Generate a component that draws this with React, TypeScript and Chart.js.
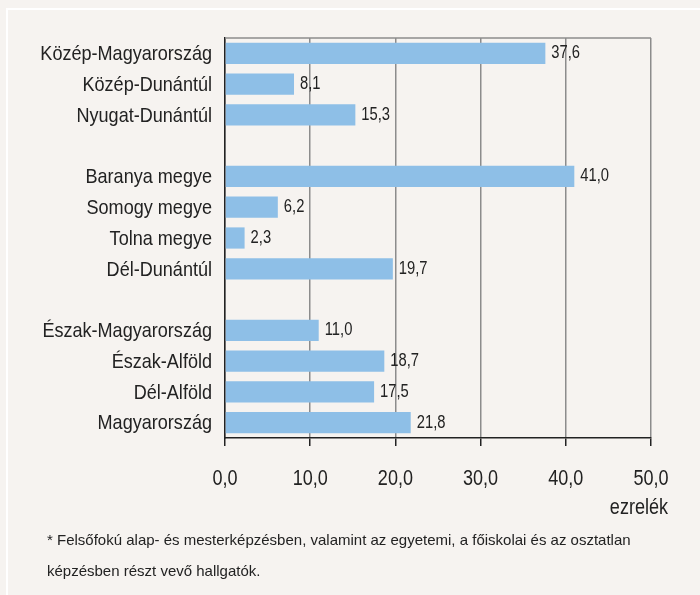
import React, { useEffect, useRef } from "react";
import { Chart, registerables } from "chart.js";

Chart.register(...registerables);

const categories: string[] = [
  "Közép-Magyarország",
  "Közép-Dunántúl",
  "Nyugat-Dunántúl",
  "",
  "Baranya megye",
  "Somogy megye",
  "Tolna megye",
  "Dél-Dunántúl",
  "",
  "Észak-Magyarország",
  "Észak-Alföld",
  "Dél-Alföld",
  "Magyarország",
];

const values: (number | null)[] = [37.6, 8.1, 15.3, null, 41.0, 6.2, 2.3, 19.7, null, 11.0, 18.7, 17.5, 21.8];

const xTicks: number[] = [0, 10, 20, 30, 40, 50];

const unitLabel = "ezrelék";
const footnoteLines: string[] = [
  "* Felsőfokú alap- és mesterképzésben, valamint az egyetemi, a főiskolai és az osztatlan",
  "képzésben részt vevő hallgatók.",
];

const FONT = "'Liberation Sans', Arial, sans-serif";
const BG = "#F6F3F0";
const BAR = "#8EBFE7";
const GRID = "#8C8C8C";
const DARK = "#222222";

const fmt = (v: number) => v.toFixed(1).replace(".", ",");

function drawNarrow(
  ctx: CanvasRenderingContext2D,
  text: string,
  x: number,
  y: number,
  align: CanvasTextAlign,
  size: number,
  squeeze: number
) {
  ctx.save();
  ctx.translate(x, y);
  ctx.scale(squeeze, 1);
  ctx.font = `${size}px ${FONT}`;
  ctx.fillStyle = DARK;
  ctx.textAlign = align;
  ctx.textBaseline = "middle";
  ctx.fillText(text, 0, 0);
  ctx.restore();
}

const decorPlugin = {
  id: "decor",
  beforeDatasetsDraw(chart: any) {
    const { ctx, chartArea } = chart;
    ctx.save();
    ctx.strokeStyle = GRID;
    ctx.lineWidth = 1.5;
    ctx.beginPath();
    ctx.moveTo(chartArea.left, chartArea.top);
    ctx.lineTo(chartArea.right, chartArea.top);
    ctx.stroke();
    ctx.restore();
  },
  afterDatasetsDraw(chart: any) {
    const { ctx } = chart;
    const meta = chart.getDatasetMeta(0);
    meta.data.forEach((el: any, i: number) => {
      const v = values[i];
      if (v === null || v === undefined) return;
      drawNarrow(ctx, fmt(v), el.x + 6, el.y, "left", 18, 0.82);
    });
  },
  afterDraw(chart: any) {
    const { ctx } = chart;
    const xs = chart.scales.x;
    const ys = chart.scales.y;
    categories.forEach((c, i) => {
      if (!c) return;
      drawNarrow(ctx, c, ys.right - 13, ys.getPixelForTick(i) + 1, "right", 21, 0.86);
    });
    xTicks.forEach((v) => {
      drawNarrow(ctx, fmt(v), xs.getPixelForValue(v), 478.5, "center", 22, 0.82);
    });
    drawNarrow(ctx, unitLabel, 668, 508, "right", 22, 0.82);
    ctx.save();
    ctx.fillStyle = DARK;
    ctx.font = `15px ${FONT}`;
    ctx.textAlign = "left";
    ctx.textBaseline = "middle";
    ctx.fillText(footnoteLines[0], 47, 541);
    ctx.fillText(footnoteLines[1], 47, 572);
    ctx.restore();
  },
};

export default function App() {
  const ref = useRef<HTMLCanvasElement | null>(null);

  useEffect(() => {
    if (!ref.current) return;
    const chart = new Chart(ref.current, {
      type: "bar",
      data: {
        labels: categories,
        datasets: [
          {
            data: values as any,
            backgroundColor: BAR,
            borderWidth: 0,
            categoryPercentage: 1,
            barPercentage: 0.69,
          },
        ],
      },
      options: {
        indexAxis: "y",
        animation: false,
        responsive: true,
        maintainAspectRatio: false,
        layout: { padding: { left: 0, top: 38, right: 49, bottom: 0 } },
        plugins: {
          legend: { display: false },
          tooltip: { enabled: false },
        },
        scales: {
          x: {
            min: 0,
            max: 50,
            afterBuildTicks: (scale: any) => {
              scale.ticks = xTicks.map((v) => ({ value: v }));
            },
            afterFit: (scale: any) => {
              scale.height = 157;
            },
            ticks: { display: false },
            grid: {
              color: GRID,
              lineWidth: 1.5,
              drawTicks: true,
              tickLength: 8,
              tickColor: DARK,
            },
            border: { display: true, color: DARK, width: 1.5 },
          },
          y: {
            afterFit: (scale: any) => {
              scale.width = 225;
            },
            ticks: { display: false, autoSkip: false },
            grid: { display: false, drawTicks: false },
            border: { display: true, color: DARK, width: 1.5 },
          },
        },
      },
      plugins: [decorPlugin],
    });
    return () => chart.destroy();
  }, []);

  return (
    <div
      style={{
        position: "fixed",
        left: 0,
        top: 0,
        width: 700,
        height: 595,
        background: BG,
        overflow: "hidden",
      }}
    >
      <div
        style={{
          position: "absolute",
          left: 6,
          top: 8,
          width: 720,
          height: 620,
          borderTop: "2px solid #FFFFFF",
          borderLeft: "2px solid #FFFFFF",
        }}
      />
      <div style={{ position: "absolute", left: 0, top: 0, width: 700, height: 595 }}>
        <canvas ref={ref} />
      </div>
    </div>
  );
}
